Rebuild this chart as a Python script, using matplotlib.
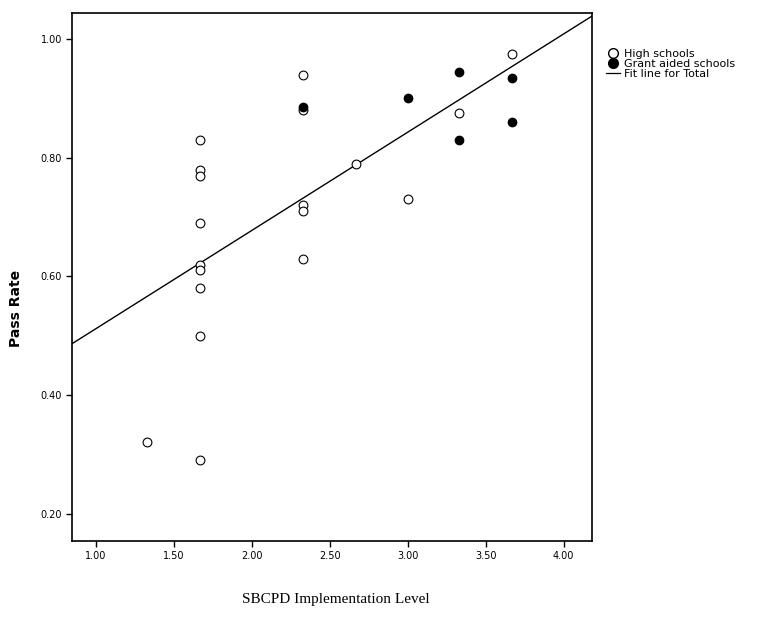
import matplotlib
matplotlib.use("Agg")
import matplotlib.pyplot as plt
import numpy as np
from matplotlib.lines import Line2D

# SBCPD implementation level vs pass rate
high_x = [1.33, 1.67, 1.67, 1.67, 1.67, 1.67, 1.67, 1.67, 1.67, 1.67,
          2.33, 2.33, 2.33, 2.33, 2.33, 2.67, 3.00, 3.33, 3.67]
high_y = [0.32, 0.83, 0.78, 0.77, 0.69, 0.62, 0.61, 0.58, 0.50, 0.29,
          0.94, 0.88, 0.72, 0.71, 0.63, 0.79, 0.73, 0.875, 0.975]

grant_x = [2.33, 3.00, 3.33, 3.33, 3.67, 3.67]
grant_y = [0.885, 0.90, 0.945, 0.83, 0.935, 0.86]

x_ticks = [1.00, 1.50, 2.00, 2.50, 3.00, 3.50, 4.00]
y_ticks = [0.20, 0.40, 0.60, 0.80, 1.00]


def main():
    fig = plt.figure(figsize=(7.78, 6.21), dpi=100)
    ax = fig.add_axes([0.0925, 0.129, 0.668, 0.850])

    ax.scatter(high_x, high_y, s=40, facecolors="white", edgecolors="black",
               linewidths=0.8, zorder=3)
    ax.scatter(grant_x, grant_y, s=36, color="black", zorder=3)

    # fit line for total sample
    all_x = np.array(high_x + grant_x)
    all_y = np.array(high_y + grant_y)
    slope, intercept = np.polyfit(all_x, all_y, 1)
    xlim = (0.846, 4.18)
    xs = np.array(xlim)
    ax.plot(xs, intercept + slope * xs, color="black", lw=1.0, zorder=2)

    ax.set_xlim(*xlim)
    ax.set_ylim(0.154, 1.044)
    ax.set_xticks(x_ticks)
    ax.set_xticklabels([f"{t:.2f}" for t in x_ticks], fontsize=7)
    ax.set_yticks(y_ticks)
    ax.set_yticklabels([f"{t:.2f}" for t in y_ticks], fontsize=7)
    ax.tick_params(direction="out", length=4, width=1.0, pad=3)
    for sp in ax.spines.values():
        sp.set_linewidth(1.2)

    ax.set_ylabel("Pass Rate", fontsize=10, fontweight="bold")
    ax.yaxis.set_label_coords(-0.095, 0.44)
    fig.text(0.432, 0.034, "SBCPD Implementation Level", fontsize=11,
             family="Liberation Serif", ha="center", va="center")

    handles = [
        Line2D([], [], marker="o", ls="", markerfacecolor="white",
               markeredgecolor="black", markersize=7),
        Line2D([], [], marker="o", ls="", color="black", markersize=7),
        Line2D([], [], color="black", lw=0.9),
    ]
    labels = ["High schools", "Grant aided schools", "Fit line for Total"]
    fig.legend(handles, labels, loc="upper left",
               bbox_to_anchor=(0.772, 0.93), frameon=False, fontsize=8,
               handlelength=1.2, handletextpad=0.4, labelspacing=0.0,
               borderpad=0.0)

    fig.savefig("out.png", dpi=100)


if __name__ == "__main__":
    main()
